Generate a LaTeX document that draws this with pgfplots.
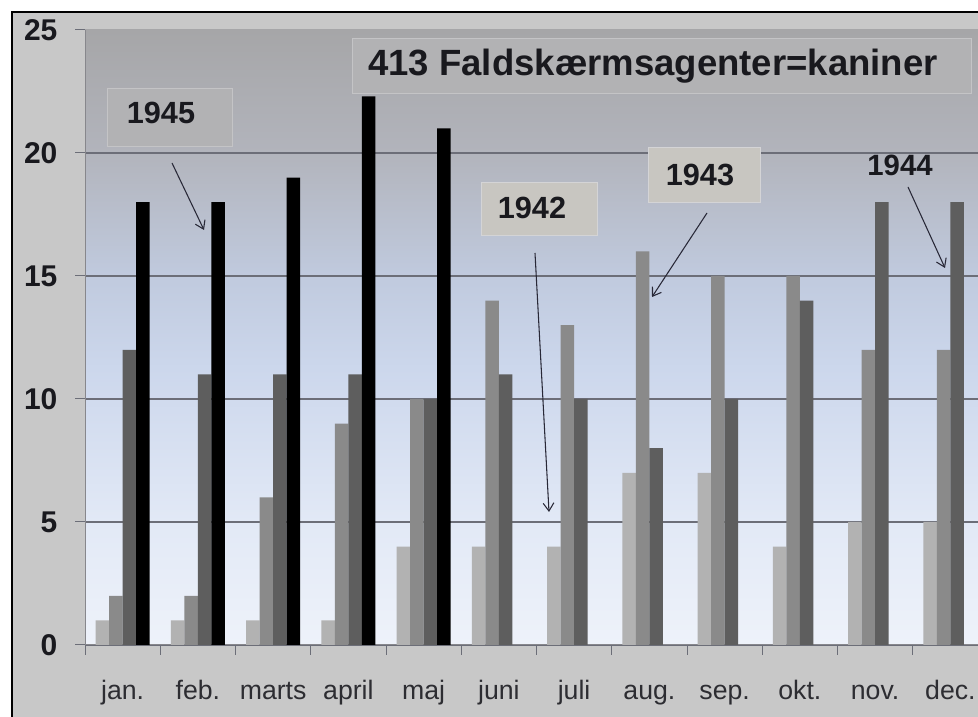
\documentclass[border=0pt]{standalone}
\usepackage{fontspec}
\setmainfont{Liberation Sans}
\usepackage{pgfplots}
\pgfplotsset{compat=1.18}
\usepackage{pgfplotstable}
\usetikzlibrary{arrows.meta}

\definecolor{outerbg}{RGB}{200,200,200}
\definecolor{bgA}{RGB}{238,242,250}
\definecolor{bgB}{RGB}{226,233,246}
\definecolor{bgC}{RGB}{204,215,236}
\definecolor{bgD}{RGB}{192,202,222}
\definecolor{bgE}{RGB}{178,180,188}
\definecolor{bgF}{RGB}{166,166,168}
\definecolor{c42}{RGB}{178,178,178}
\definecolor{c43}{RGB}{138,138,138}
\definecolor{c44}{RGB}{94,94,94}
\definecolor{c45}{RGB}{0,0,0}
\definecolor{gridgray}{RGB}{108,110,120}
\definecolor{axisgray}{RGB}{135,135,140}
\definecolor{labelgray}{RGB}{45,45,50}
\definecolor{numcol}{RGB}{25,25,30}
\definecolor{arrowcol}{RGB}{40,40,55}
\definecolor{boxfillA}{RGB}{178,178,180}
\definecolor{boxdrawA}{RGB}{196,196,198}
\definecolor{boxfillB}{RGB}{200,198,193}
\definecolor{boxdrawB}{RGB}{212,212,214}

\pgfdeclareverticalshading{plotbg}{100bp}{color(0bp)=(bgA); color(25bp)=(bgA); color(35bp)=(bgB); color(47.5bp)=(bgC); color(55bp)=(bgD); color(65bp)=(bgE); color(75bp)=(bgF); color(100bp)=(bgF)}

\pgfplotstableread{
x a b c
0 1 2 12
1 1 2 11
2 1 6 11
3 1 9 11
4 4 10 10
5 4 14 11
6 4 13 10
7 7 16 8
8 7 15 10
9 4 15 14
10 5 12 18
11 5 12 18
}\datatab

\pgfplotstableread{
x d
0 18
1 18
2 19
3 22.3
4 21
}\datafive

\begin{document}
\begin{tikzpicture}
\path[use as bounding box, clip] (0pt,0pt) rectangle (733.5pt,537.75pt);
\fill[white] (0pt,0pt) rectangle (733.5pt,537.75pt);
\fill[outerbg] (9pt,0pt) rectangle (733.5pt,528.75pt);
\draw[black, line width=1.1pt] (9pt,0pt) -- (9pt,528.75pt) -- (740pt,528.75pt);

\begin{axis}[
  at={(63.75pt,54pt)}, anchor=south west,
  scale only axis, width=677.25pt, height=461.25pt,
  xmin=-0.5, xmax=11.5, ymin=0, ymax=25,
  ybar, bar width=0.18,
  axis background/.style={shading=plotbg},
  axis x line*=bottom, axis y line*=left,
  axis line style={draw=axisgray, line width=0.75pt},
  xtick={-0.5,0.5,1.5,2.5,3.5,4.5,5.5,6.5,7.5,8.5,9.5,10.5,11.5},
  x tick label as interval,
  xticklabels={jan.,feb.,marts,april,maj,juni,juli,aug.,sep.,okt.,nov.,dec.},
  x tick label style={font=\fontsize{20}{24}\selectfont, text=labelgray, anchor=base, yshift=-33pt},
  ytick={0,5,10,15,20}, extra y ticks={25}, extra y tick style={grid=none},
  ymajorgrids, grid style={draw=gridgray, line width=0.8pt},
  tick align=outside, major tick length=7.5pt,
  tick style={draw=gridgray, line width=0.75pt},
  /pgf/number format/assume math mode=true,
  y tick label style={font=\fontsize{22.5}{26}\selectfont\bfseries, text=numcol, anchor=east, inner sep=0pt, xshift=-13pt},
]
\addplot[fill=c42, draw=none, bar shift=-0.27] table[x=x,y=a]{\datatab};
\addplot[fill=c43, draw=none, bar shift=-0.09] table[x=x,y=b]{\datatab};
\addplot[fill=c44, draw=none, bar shift=0.09] table[x=x,y=c]{\datatab};
\addplot[fill=c45, draw=none, bar shift=0.27] table[x=x,y=d]{\datafive};
\end{axis}

\begin{scope}[x=0.75pt, y=0.75pt]
  % title box
  \filldraw[fill=boxfillA, draw=boxdrawA, line width=0.75pt] (352,623) rectangle (971,678);
  \node[anchor=west, inner sep=0pt, text=numcol, font=\fontsize{27.4}{30}\selectfont\bfseries] at (368,651) {413 Faldskærmsagenter=kaniner};
  % 1945
  \filldraw[fill=boxfillA, draw=boxdrawA, line width=0.75pt] (107,570) rectangle (232,628);
  \node[inner sep=0pt, text=numcol, font=\fontsize{23}{26}\selectfont\bfseries] at (161,604) {1945};
  \draw[arrowcol, line width=0.8pt, -{Straight Barb[length=6pt,width=8pt]}] (172,554) -- (204,487);
  % 1942
  \filldraw[fill=boxfillB, draw=boxdrawB, line width=0.75pt] (481,481) rectangle (597,534);
  \node[inner sep=0pt, text=numcol, font=\fontsize{23}{26}\selectfont\bfseries] at (532,509) {1942};
  \draw[arrowcol, line width=0.8pt, -{Straight Barb[length=6pt,width=8pt]}] (535,464) -- (549,205);
  % 1943
  \filldraw[fill=boxfillB, draw=boxdrawB, line width=0.75pt] (648,514) rectangle (760,569);
  \node[inner sep=0pt, text=numcol, font=\fontsize{23}{26}\selectfont\bfseries] at (700,542) {1943};
  \draw[arrowcol, line width=0.8pt, -{Straight Barb[length=6pt,width=8pt]}] (707,504) -- (652,420);
  % 1944
  \node[inner sep=0pt, text=numcol, font=\fontsize{22}{26}\selectfont\bfseries] at (900,552) {1944};
  \draw[arrowcol, line width=0.8pt, -{Straight Barb[length=6pt,width=8pt]}] (908,530) -- (945,449);
\end{scope}
\end{tikzpicture}
\end{document}
